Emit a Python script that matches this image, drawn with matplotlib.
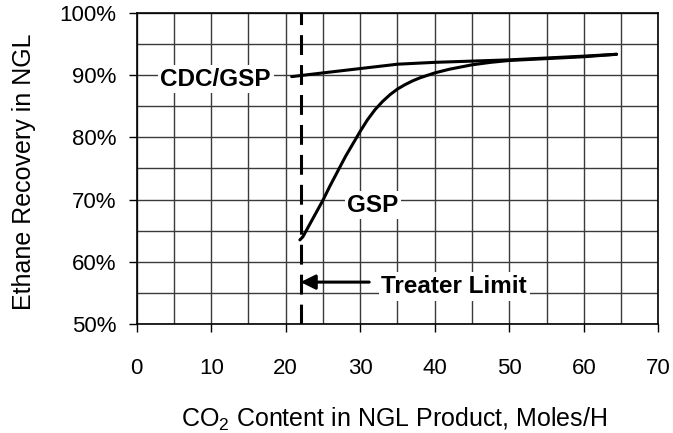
import matplotlib
matplotlib.use("Agg")
import matplotlib.pyplot as plt
from matplotlib.ticker import MultipleLocator, FuncFormatter

plt.rcParams['font.family'] = ['Liberation Sans', 'DejaVu Sans']
plt.rcParams['mathtext.fontset'] = 'custom'
plt.rcParams['mathtext.rm'] = 'Liberation Sans'
plt.rcParams['mathtext.it'] = 'Liberation Sans:italic'

# CO2 content (moles/h) vs ethane recovery (%)
cdc_x = [20.8, 25, 30, 35, 40, 45, 50, 55, 60, 64.4]
cdc_y = [89.8, 90.4, 91.1, 91.8, 92.1, 92.3, 92.5, 92.8, 93.1, 93.4]

gsp_x = [21.9, 22.3, 25.0, 25.9, 28.0, 30.0, 31.0, 32.0, 33.0, 34.0, 35.0, 36.0, 37.0,
         38.0, 40.0, 42.0, 45.0, 47.5, 50.0, 55.0, 60.0, 64.4]
gsp_y = [63.5, 64.0, 69.9, 72.1, 76.9, 81.0, 82.9, 84.5, 85.8, 86.9, 87.8, 88.5, 89.1,
         89.6, 90.4, 91.0, 91.7, 92.1, 92.4, 92.7, 93.0, 93.4]

treater_limit = 22

W, H = 673, 433
fig = plt.figure(figsize=(W / 100, H / 100), dpi=100)
ax = fig.add_axes([136.7 / W, 1 - 323.7 / H, (658.3 - 136.7) / W, (323.7 - 13.3) / H])

ax.set_xlim(0, 70)
ax.set_ylim(50, 100)
ax.xaxis.set_major_locator(MultipleLocator(10))
ax.xaxis.set_minor_locator(MultipleLocator(5))
ax.yaxis.set_major_locator(MultipleLocator(10))
ax.yaxis.set_minor_locator(MultipleLocator(5))
ax.yaxis.set_major_formatter(FuncFormatter(lambda v, p: f"{v:.0f}%"))

ax.grid(which='both', color='#3a3a3a', lw=1.0)
ax.set_axisbelow(True)
ax.tick_params(which='major', direction='out', length=5.5, width=1, labelsize=16, color='black')
ax.tick_params(axis='x', pad=19)
ax.tick_params(axis='y', pad=9)
ax.tick_params(which='minor', length=0)
for s in ax.spines.values():
    s.set_color('black')
    s.set_linewidth(1.2)

ax.axvline(treater_limit, color='black', lw=2.2, linestyle=(0, (6.5, 3.3)), zorder=4)
ax.plot(cdc_x, cdc_y, color='black', lw=2.2, zorder=5, solid_capstyle='round')
ax.plot(gsp_x, gsp_y, color='black', lw=2.2, zorder=5, solid_capstyle='round',
        solid_joinstyle='round')

box = dict(facecolor='white', edgecolor='none', pad=2)
ax.text(10.6, 89.4, 'CDC/GSP', fontsize=17.5, fontweight='bold', ha='center', va='center', bbox=box, zorder=3)
ax.text(31.7, 69.1, 'GSP', fontsize=17.5, fontweight='bold', ha='center', va='center', bbox=box, zorder=3)
ax.text(42.6, 56.0, 'Treater Limit', fontsize=17.5, fontweight='bold', ha='center', va='center', bbox=box, zorder=3)
ax.annotate('', xy=(treater_limit, 56.7), xytext=(31.2, 56.7),
            arrowprops=dict(arrowstyle='-|>', lw=2.2, color='black', mutation_scale=22,
                            shrinkA=0, shrinkB=0), zorder=6)

ax.set_xlabel(r'CO$_2$ Content in NGL Product, Moles/H', fontsize=18)
ax.set_ylabel('Ethane Recovery in NGL', fontsize=18)
ax.xaxis.label.set_va('center')
ax.yaxis.label.set_va('center')
ax.xaxis.set_label_coords(0.494, -0.307)
ax.yaxis.set_label_coords(-0.216, 0.49)

fig.savefig('out.png', dpi=100)
